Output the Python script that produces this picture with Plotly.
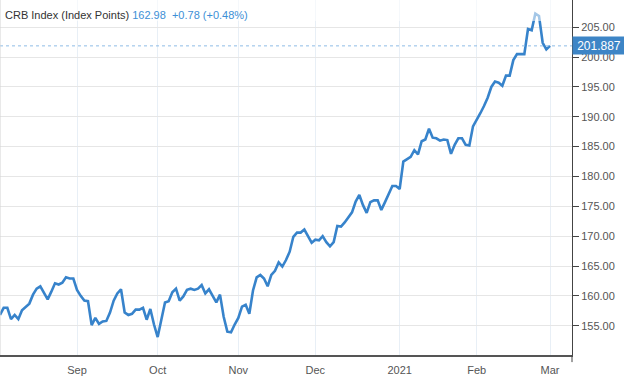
import pandas as pd
import plotly.graph_objects as go

# ---- data ----
index_name = "CRB Index (Index Points)"
quote_price = "162.98"
quote_change = "+0.78 (+0.48%)"
current_value = 201.887

crb_close = [
    156.8, 158.0, 158.0, 156.1, 156.8, 156.1, 157.6, 158.2, 158.7, 160.2,
    161.2, 161.6, 160.4, 159.4, 160.7, 162.1, 161.9, 162.2, 163.1, 162.9,
    162.9, 161.0, 160.0, 159.2, 159.1, 155.1, 156.3, 155.3, 155.7, 155.8,
    157.2, 159.2, 160.4, 161.1, 157.2, 156.8, 157.0, 157.7, 157.7, 158.0,
    156.0, 157.8, 155.2, 153.1, 156.0, 158.9, 159.1, 160.6, 161.2, 159.2,
    159.9, 161.0, 161.2, 161.0, 161.2, 161.8, 160.4, 161.1, 160.0, 158.9,
    160.2, 156.5, 154.0, 153.9, 155.2, 156.3, 158.2, 158.5, 157.0, 160.9,
    163.1, 163.5, 162.9, 161.6, 163.5, 164.2, 165.6, 164.9, 166.0, 167.4,
    169.9, 170.6, 170.6, 171.1, 170.0, 168.9, 169.4, 169.3, 170.0, 169.0,
    168.3, 169.0, 171.7, 171.6, 172.3, 173.2, 174.0, 175.8, 176.9, 175.2,
    173.9, 175.7, 176.0, 176.0, 174.4, 175.7, 177.1, 178.4, 178.4, 177.9,
    182.5, 182.9, 183.3, 184.4, 183.7, 185.9, 186.2, 188.0, 186.5, 186.4,
    186.0, 186.2, 186.1, 183.8, 185.3, 186.4, 186.4, 185.3, 185.2, 188.4,
    189.4, 190.6, 191.8, 193.2, 195.0, 195.9, 195.7, 195.2, 196.9, 196.9,
    199.5, 200.5, 200.5, 200.5, 204.7, 204.5, 207.3, 206.9, 202.4, 201.3,
    201.887,
]
trade_dates = pd.bdate_range("2020-08-03", "2021-03-01")
assert len(trade_dates) == len(crb_close)

month_ticks = ["2020-09-01", "2020-10-01", "2020-11-02", "2020-12-01",
               "2021-01-01", "2021-02-01", "2021-03-01"]
month_labels = ["Sep", "Oct", "Nov", "Dec", "2021", "Feb", "Mar"]

y_ticks = [155, 160, 165, 170, 175, 180, 185, 190, 195, 200, 205]

# ---- styling ----
LINE_BLUE = "#3783cb"
TEXT_GREY = "#555555"
FONT = "Helvetica, Arial, Liberation Sans, sans-serif"

fig = go.Figure()
fig.add_trace(go.Scatter(
    x=trade_dates, y=crb_close, mode="lines",
    line=dict(color=LINE_BLUE, width=2.6),
    hoverinfo="skip", showlegend=False,
))

fig.update_layout(
    width=624, height=378, autosize=False,
    margin=dict(l=0, r=52, t=0, b=23, pad=0),
    paper_bgcolor="white", plot_bgcolor="white",
    font=dict(family=FONT, size=11, color=TEXT_GREY),
    showlegend=False,
)

fig.update_xaxes(
    range=["2020-08-03", "2021-03-09"],
    rangebreaks=[dict(bounds=["sat", "mon"])],
    tickmode="array", tickvals=month_ticks, ticktext=month_labels,
    showgrid=True, gridcolor="#e8eff6", gridwidth=1,
    showline=True, linecolor="#555555", linewidth=1.5,
    ticks="outside", ticklen=4, tickcolor="rgba(0,0,0,0)",
    tickfont=dict(family=FONT, size=11, color=TEXT_GREY),
    zeroline=False, fixedrange=True,
)

fig.update_yaxes(
    side="right", range=[150.09, 209.57],
    tickmode="array", tickvals=y_ticks, tickformat=".2f",
    showgrid=True, gridcolor="#e6e6e6", gridwidth=1,
    showline=True, linecolor="#444444", linewidth=1,
    ticks="outside", ticklen=6, tickcolor="#444444",
    tickfont=dict(family=FONT, size=11, color=TEXT_GREY),
    zeroline=False, fixedrange=True,
)

# dotted line at the current value
fig.add_shape(type="line", xref="paper", x0=0, x1=1, yref="y",
              y0=current_value, y1=current_value,
              line=dict(color="#8fbce6", width=1, dash="dot"))

# translucent header strip
fig.add_shape(type="rect", xref="paper", yref="paper",
              x0=0, x1=1, y0=1 - 21 / 355, y1=1,
              fillcolor="rgba(255,255,255,0.55)", line=dict(width=0),
              layer="above")

# left border
fig.add_shape(type="line", xref="paper", yref="paper", x0=0, x1=0, y0=0, y1=1,
              line=dict(color="#d4d4d4", width=1))

# y-axis line continuing a little below the x-axis
fig.add_shape(type="line", xref="paper", yref="paper", x0=1, x1=1,
              y0=-0.02, y1=0, line=dict(color="#444444", width=1))

# current value label
fig.add_annotation(
    xref="paper", x=1, xanchor="left", yref="y", y=current_value,
    yanchor="middle", text=f"{current_value:.3f}", showarrow=False,
    bgcolor="#3d85c6", font=dict(family=FONT, size=12, color="white"),
    width=50, height=15, borderpad=1, align="center",
)

# header text
fig.add_annotation(
    xref="paper", x=0, xanchor="left", xshift=3,
    yref="paper", y=1, yanchor="top", yshift=-7,
    text=(f"<span style='color:#333333'>{index_name}</span> "
          f"<span style='color:#3d8fd6'>{quote_price}&nbsp;&nbsp;{quote_change}</span>"),
    showarrow=False, font=dict(family=FONT, size=11), align="left",
)

fig.write_html(
    "out.html",
    config={"displayModeBar": False, "staticPlot": True},
    post_script="document.body.style.margin='0';document.body.style.overflow='hidden';",
)
